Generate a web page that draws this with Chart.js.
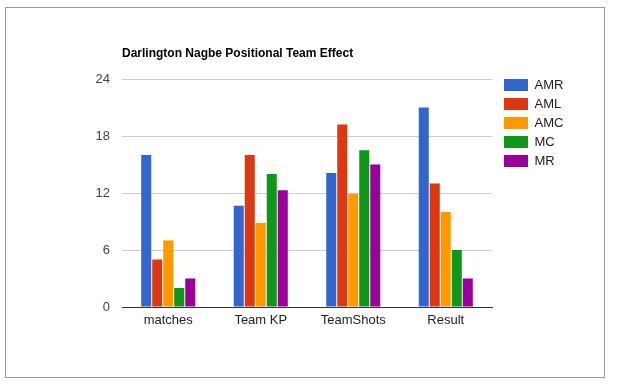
<!DOCTYPE html>
<html>
<head>
<meta charset="utf-8">
<script src="https://cdn.jsdelivr.net/npm/chart.js@4/dist/chart.umd.min.js"></script>
<style>
  html, body { margin: 0; padding: 0; background: #ffffff; }
  #wrap { position: relative; width: 621px; height: 388px; }
  #frame { position: absolute; left: 5px; top: 7px; width: 600px; height: 371px; border: 1px solid #9a9a9a; box-sizing: border-box; }
  #c { position: absolute; left: 0; top: 0; }
</style>
</head>
<body>
<div id="wrap">
  <div id="frame"></div>
  <canvas id="c" width="621" height="388"></canvas>
</div>
<script>
const chartTitle = "Darlington Nagbe Positional Team Effect";
const categories = ["matches", "Team KP", "TeamShots", "Result"];
const seriesNames = ["AMR", "AML", "AMC", "MC", "MR"];
const AMR = [16, 10.65, 14.1, 21];
const AML = [5, 16, 19.2, 13];
const AMC = [7, 8.85, 11.9, 10];
const MC = [2, 14, 16.5, 6];
const MR = [3, 12.3, 15, 3];
const yTicks = [0, 6, 12, 18, 24];
const seriesColors = ["#3366cc", "#dc3912", "#ff9900", "#109618", "#990099"];

const seriesValues = [AMR, AML, AMC, MC, MR];
const FONT = "'Liberation Sans', Arial, sans-serif";

const layoutPlugin = {
  id: 'layoutFix',
  afterLayout(chart) {
    const lg = chart.legend;
    if (lg) {
      const w = lg.width, h = lg.height;
      lg.left = 498; lg.right = 498 + w;
      lg.top = 72.5; lg.bottom = 72.5 + h;
    }
  },
  afterDraw(chart) {
    const ctx = chart.ctx;
    ctx.save();
    ctx.font = "bold 12px " + FONT;
    ctx.fillStyle = "#000000";
    ctx.textAlign = "left";
    ctx.textBaseline = "middle";
    ctx.fillText(chartTitle, chart.chartArea.left, 53.5);
    ctx.restore();
  }
};

new Chart(document.getElementById('c'), {
  type: 'bar',
  data: {
    labels: categories,
    datasets: seriesNames.map((n, i) => ({
      label: n,
      data: seriesValues[i],
      backgroundColor: seriesColors[i],
      borderWidth: 0,
      categoryPercentage: 0.595,
      barPercentage: 0.91
    }))
  },
  options: {
    responsive: false,
    animation: false,
    devicePixelRatio: 1,
    layout: { padding: { left: 0, top: 79, right: 53.6, bottom: 0 } },
    plugins: {
      title: { display: false },
      tooltip: { enabled: false },
      legend: {
        display: true,
        position: 'right',
        align: 'start',
        labels: {
          boxWidth: 24,
          boxHeight: 12,
          padding: 6,
          color: '#222222',
          font: { family: FONT, size: 13 }
        }
      }
    },
    scales: {
      x: {
        grid: { display: false, drawTicks: false },
        border: { display: true, color: '#333333', width: 1 },
        ticks: { color: '#222222', font: { family: FONT, size: 13 }, padding: 6 },
        afterFit(scale) { scale.height = 81; }
      },
      y: {
        min: 0,
        max: 24,
        afterBuildTicks(scale) { scale.ticks = yTicks.map(v => ({ value: v })); },
        grid: { color: '#cccccc', drawTicks: false },
        border: { display: false },
        ticks: { color: '#444444', font: { family: FONT, size: 13 }, padding: 12 },
        afterFit(scale) { scale.width = 122; }
      }
    }
  },
  plugins: [layoutPlugin]
});
</script>
</body>
</html>
